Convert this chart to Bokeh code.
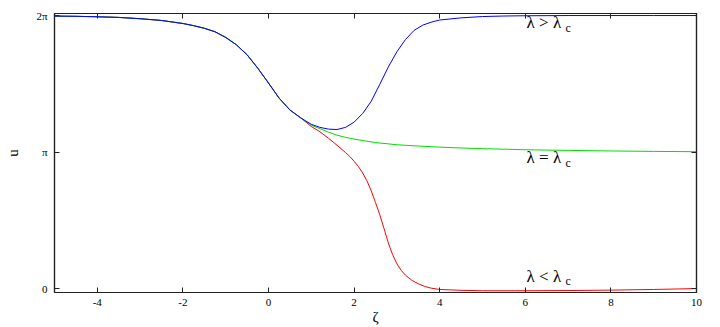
import math
from bokeh.plotting import figure
from bokeh.models import (ColumnDataSource, LinearAxis, FixedTicker, Range1d,
                          CustomJSTickFormatter)
from bokeh.core.properties import value
from bokeh.embed import file_html
from bokeh.resources import INLINE

# ---------------- data ----------------
zeta_common = [-5.0, -4.5, -4.0, -3.5, -3.0, -2.5, -2.0, -1.75, -1.5, -1.25,
               -1.0, -0.75, -0.5, -0.25, 0.0, 0.25, 0.5, 0.75]
u_common = [6.27, 6.265, 6.255, 6.24, 6.21, 6.17, 6.10, 6.05, 5.99, 5.91,
            5.78, 5.61, 5.38, 5.07, 4.73, 4.38, 4.11, 3.93]

zeta_above = [1.0, 1.2, 1.4, 1.6, 1.8, 2.0, 2.2, 2.4, 2.6, 2.8, 3.0, 3.2, 3.4,
              3.6, 3.8, 4.0, 4.5, 5.0, 5.5, 6.0, 7.0, 8.0, 9.0, 10.0]
u_above = [3.78, 3.71, 3.67, 3.66, 3.71, 3.83, 4.03, 4.31, 4.70, 5.10, 5.45,
           5.73, 5.94, 6.06, 6.13, 6.18, 6.23, 6.26, 6.272, 6.278, 6.283,
           6.283, 6.283, 6.283]

zeta_equal = [1.0, 1.2, 1.4, 1.6, 1.8, 2.0, 2.25, 2.5, 3.0, 3.5, 4.0, 4.5,
              5.0, 6.0, 7.0, 8.0, 9.0, 10.0]
u_equal = [3.76, 3.68, 3.60, 3.53, 3.48, 3.44, 3.40, 3.36, 3.31, 3.28, 3.255,
           3.235, 3.22, 3.195, 3.18, 3.167, 3.157, 3.15]

zeta_below = [1.0, 1.2, 1.4, 1.6, 1.8, 1.9, 2.0, 2.1, 2.2, 2.3, 2.4, 2.5,
              2.6, 2.7, 2.8, 2.9, 3.0, 3.1, 3.2, 3.35, 3.5, 3.65, 3.8, 4.0,
              4.5, 5.0, 6.0, 7.0, 8.0, 9.0, 10.0]
u_below = [3.73, 3.61, 3.46, 3.30, 3.13, 3.04, 2.93, 2.81, 2.66, 2.48, 2.25,
           1.98, 1.70, 1.38, 1.05, 0.78, 0.57, 0.42, 0.31, 0.19, 0.11, 0.05,
           0.01, -0.02, -0.04, -0.05, -0.05, -0.045, -0.035, -0.02, 0.0]

curve_labels = ["λ > λ", "λ = λ", "λ < λ"]
curve_label_sub = ["c", "c", "c"]
curve_label_zeta = [6.03, 6.03, 6.03]
curve_label_u = [6.12, 3.01, 0.28]

x_ticks = [-4, -2, 0, 2, 4, 6, 8, 10]
y_ticks = [0.0, math.pi, 2 * math.pi]
y_tick_labels = ["0", "π", "2π"]

# ---------------- figure ----------------
FONT = "'Liberation Serif', 'Times New Roman', serif"
p = figure(width=720, height=327, output_backend="svg", toolbar_location=None,
           x_range=Range1d(-5, 10), y_range=Range1d(-0.09, 6.33),
           min_border_left=54, min_border_right=24, min_border_top=13,
           min_border_bottom=35, x_axis_location=None, y_axis_location=None)
p.grid.visible = False
p.outline_line_color = "#222222"
p.outline_line_width = 1.2
p.background_fill_color = "white"
p.border_fill_color = "white"

def series(z_tail, u_tail):
    return zeta_common + z_tail, u_common + u_tail

zx, zu = series(zeta_below, u_below)
p.line(zx, zu, line_color="#ff0000", line_width=1)
zx, zu = series(zeta_equal, u_equal)
p.line(zx, zu, line_color="#00dd00", line_width=1)
zx, zu = series(zeta_above, u_above)
p.line(zx, zu, line_color="#0000ff", line_width=1)

ytick_fmt = CustomJSTickFormatter(args=dict(vals=y_ticks, labs=y_tick_labels), code="""
for (let i = 0; i < vals.length; i++) {
  if (Math.abs(tick - vals[i]) < 1e-6) return labs[i];
}
return '';
""")
xtick_fmt = CustomJSTickFormatter(code="return String(tick);")

def style_axis(ax, show_labels):
    ax.axis_line_color = "#222222"
    ax.axis_line_width = 1.2
    ax.major_tick_in = 5
    ax.major_tick_out = 0
    ax.major_tick_line_color = "#222222"
    ax.minor_tick_in = 0
    ax.minor_tick_out = 0
    ax.major_label_text_font = FONT
    ax.axis_label_text_font = FONT
    ax.axis_label_text_font_style = "normal"
    ax.axis_label_text_color = "black"
    if show_labels:
        ax.major_label_text_font_size = "11px"
        ax.major_label_text_color = "black"
    else:
        ax.major_label_text_font_size = "0px"
        ax.major_label_text_color = None
        ax.major_label_standoff = 0

xb = LinearAxis(ticker=FixedTicker(ticks=x_ticks), formatter=xtick_fmt,
                axis_label="ζ")
style_axis(xb, True)
xb.major_label_standoff = 6
xb.axis_label_text_font_size = "15px"
xb.axis_label_standoff = 0
p.add_layout(xb, "below")

xt = LinearAxis(ticker=FixedTicker(ticks=x_ticks))
style_axis(xt, False)
p.add_layout(xt, "above")

yl = LinearAxis(ticker=FixedTicker(ticks=y_ticks), formatter=ytick_fmt,
                axis_label="u")
style_axis(yl, True)
yl.major_label_standoff = 7
yl.axis_label_text_font_size = "15px"
yl.axis_label_standoff = 12
p.add_layout(yl, "left")

yr = LinearAxis(ticker=FixedTicker(ticks=y_ticks), formatter=ytick_fmt)
style_axis(yr, False)
p.add_layout(yr, "right")

# curve labels
src = ColumnDataSource(dict(x=curve_label_zeta, y=curve_label_u,
                            t=curve_labels, s=curve_label_sub))
p.text(x="x", y="y", text="t", source=src, text_font=value(FONT),
       text_font_size="17px", text_align="left", text_baseline="middle",
       text_color="black")
p.text(x="x", y="y", text="s", source=src, text_font=value(FONT),
       text_font_size="12px", text_align="left", text_baseline="middle",
       text_color="black", x_offset=39, y_offset=5)

open("out.html", "w").write(file_html(p, INLINE))
